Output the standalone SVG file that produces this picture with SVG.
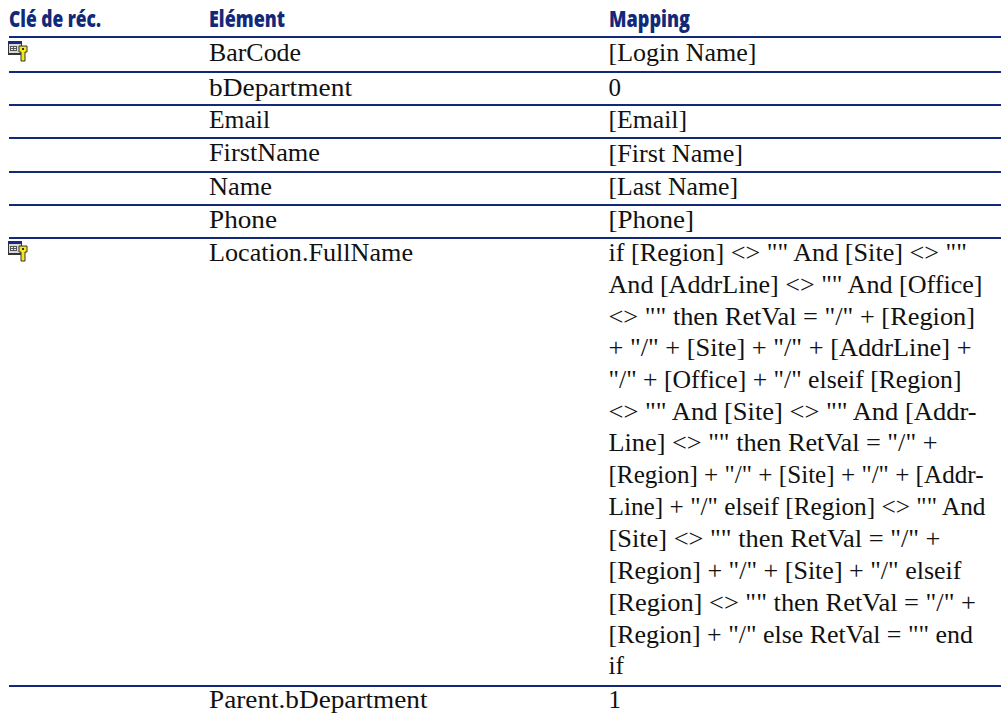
<svg xmlns="http://www.w3.org/2000/svg" width="1001" height="715" viewBox="0 0 1001 715">
<style>
.h{font-family:"Open Sans","Noto Sans",sans-serif;font-weight:800;font-size:23px;fill:#12297a}
.t{font-family:"Liberation Serif",serif;font-size:25px;fill:#111}
.r{stroke:#12297a;stroke-width:2.2;fill:none}
</style>
<defs>
<g id="key">
<rect x="0" y="0" width="14" height="14" fill="#333"/>
<rect x="0" y="0" width="14" height="3" fill="#1a2a80"/>
<rect x="1" y="3" width="12" height="9" fill="#d8d8d8"/>
<rect x="2" y="5" width="7" height="5" fill="#555"/>
<rect x="3" y="6" width="2" height="1" fill="#eee"/><rect x="6" y="6" width="2" height="1" fill="#eee"/><rect x="3" y="8" width="2" height="1" fill="#eee"/><rect x="6" y="8" width="2" height="1" fill="#eee"/>
<path d="M11 5H19V11H17V20H13V11H11Z" fill="#f6e81e" stroke="#333" stroke-width="1"/>
<rect x="14" y="7" width="2" height="2" fill="#333"/>
</g>
</defs>
<g id="header">
<text class="h" x="9" y="27" textLength="92" lengthAdjust="spacingAndGlyphs">Clé de réc.</text>
<text class="h" x="209" y="27" textLength="76" lengthAdjust="spacingAndGlyphs">Elément</text>
<text class="h" x="609" y="27" textLength="81" lengthAdjust="spacingAndGlyphs">Mapping</text>
</g>
<g id="rules">
<path class="r" d="M9 37H1001M9 72H1001M9 105H1001M9 138H1001M9 172H1001M9 205H1001M9 238H1001M9 686H1001"/>
</g>
<g id="icons">
<use href="#key" x="8" y="41"/>
<use href="#key" x="8" y="241"/>
</g>
<g id="elements">
<text class="t" x="209" y="60.5" textLength="92" lengthAdjust="spacingAndGlyphs">BarCode</text>
<text class="t" x="209" y="95.5" textLength="143" lengthAdjust="spacingAndGlyphs">bDepartment</text>
<text class="t" x="209" y="128" textLength="61" lengthAdjust="spacingAndGlyphs">Email</text>
<text class="t" x="209" y="161" textLength="111" lengthAdjust="spacingAndGlyphs">FirstName</text>
<text class="t" x="209" y="195" textLength="63" lengthAdjust="spacingAndGlyphs">Name</text>
<text class="t" x="209" y="228" textLength="68" lengthAdjust="spacingAndGlyphs">Phone</text>
<text class="t" x="209" y="261" textLength="204" lengthAdjust="spacingAndGlyphs">Location.FullName</text>
<text class="t" x="209" y="708" textLength="218.5" lengthAdjust="spacingAndGlyphs">Parent.bDepartment</text>
</g>
<g id="mapping">
<text class="t" x="608.5" y="60.5" textLength="148" lengthAdjust="spacingAndGlyphs">[Login Name]</text>
<text class="t" x="608.5" y="95.5">0</text>
<text class="t" x="608.5" y="128" textLength="78.5" lengthAdjust="spacingAndGlyphs">[Email]</text>
<text class="t" x="608.5" y="161.5" textLength="134.5" lengthAdjust="spacingAndGlyphs">[First Name]</text>
<text class="t" x="608.5" y="195" textLength="129.5" lengthAdjust="spacingAndGlyphs">[Last Name]</text>
<text class="t" x="608.5" y="228" textLength="85.5" lengthAdjust="spacingAndGlyphs">[Phone]</text>
<text class="t" x="608.5" y="260.5" textLength="358.5" lengthAdjust="spacingAndGlyphs">if [Region] &lt;&gt; "" And [Site] &lt;&gt; ""</text>
<text class="t" x="608.5" y="292.5" textLength="374" lengthAdjust="spacingAndGlyphs">And [AddrLine] &lt;&gt; "" And [Office]</text>
<text class="t" x="608.5" y="324.5" textLength="366.5" lengthAdjust="spacingAndGlyphs">&lt;&gt; "" then RetVal = "/" + [Region]</text>
<text class="t" x="608.5" y="356" textLength="363" lengthAdjust="spacingAndGlyphs">+ "/" + [Site] + "/" + [AddrLine] +</text>
<text class="t" x="608.5" y="388" textLength="353" lengthAdjust="spacingAndGlyphs">"/" + [Office] + "/" elseif [Region]</text>
<text class="t" x="608.5" y="419.5" textLength="368" lengthAdjust="spacingAndGlyphs">&lt;&gt; "" And [Site] &lt;&gt; "" And [Addr-</text>
<text class="t" x="608.5" y="451" textLength="329" lengthAdjust="spacingAndGlyphs">Line] &lt;&gt; "" then RetVal = "/" +</text>
<text class="t" x="608.5" y="483" textLength="375" lengthAdjust="spacingAndGlyphs">[Region] + "/" + [Site] + "/" + [Addr-</text>
<text class="t" x="608.5" y="515" textLength="377" lengthAdjust="spacingAndGlyphs">Line] + "/" elseif [Region] &lt;&gt; "" And</text>
<text class="t" x="608.5" y="547" textLength="332" lengthAdjust="spacingAndGlyphs">[Site] &lt;&gt; "" then RetVal = "/" +</text>
<text class="t" x="608.5" y="579" textLength="353" lengthAdjust="spacingAndGlyphs">[Region] + "/" + [Site] + "/" elseif</text>
<text class="t" x="608.5" y="611" textLength="367.5" lengthAdjust="spacingAndGlyphs">[Region] &lt;&gt; "" then RetVal = "/" +</text>
<text class="t" x="608.5" y="643" textLength="364.5" lengthAdjust="spacingAndGlyphs">[Region] + "/" else RetVal = "" end</text>
<text class="t" x="608.5" y="674" textLength="15.5" lengthAdjust="spacingAndGlyphs">if</text>
<text class="t" x="608.5" y="708">1</text>
</g>
</svg>
